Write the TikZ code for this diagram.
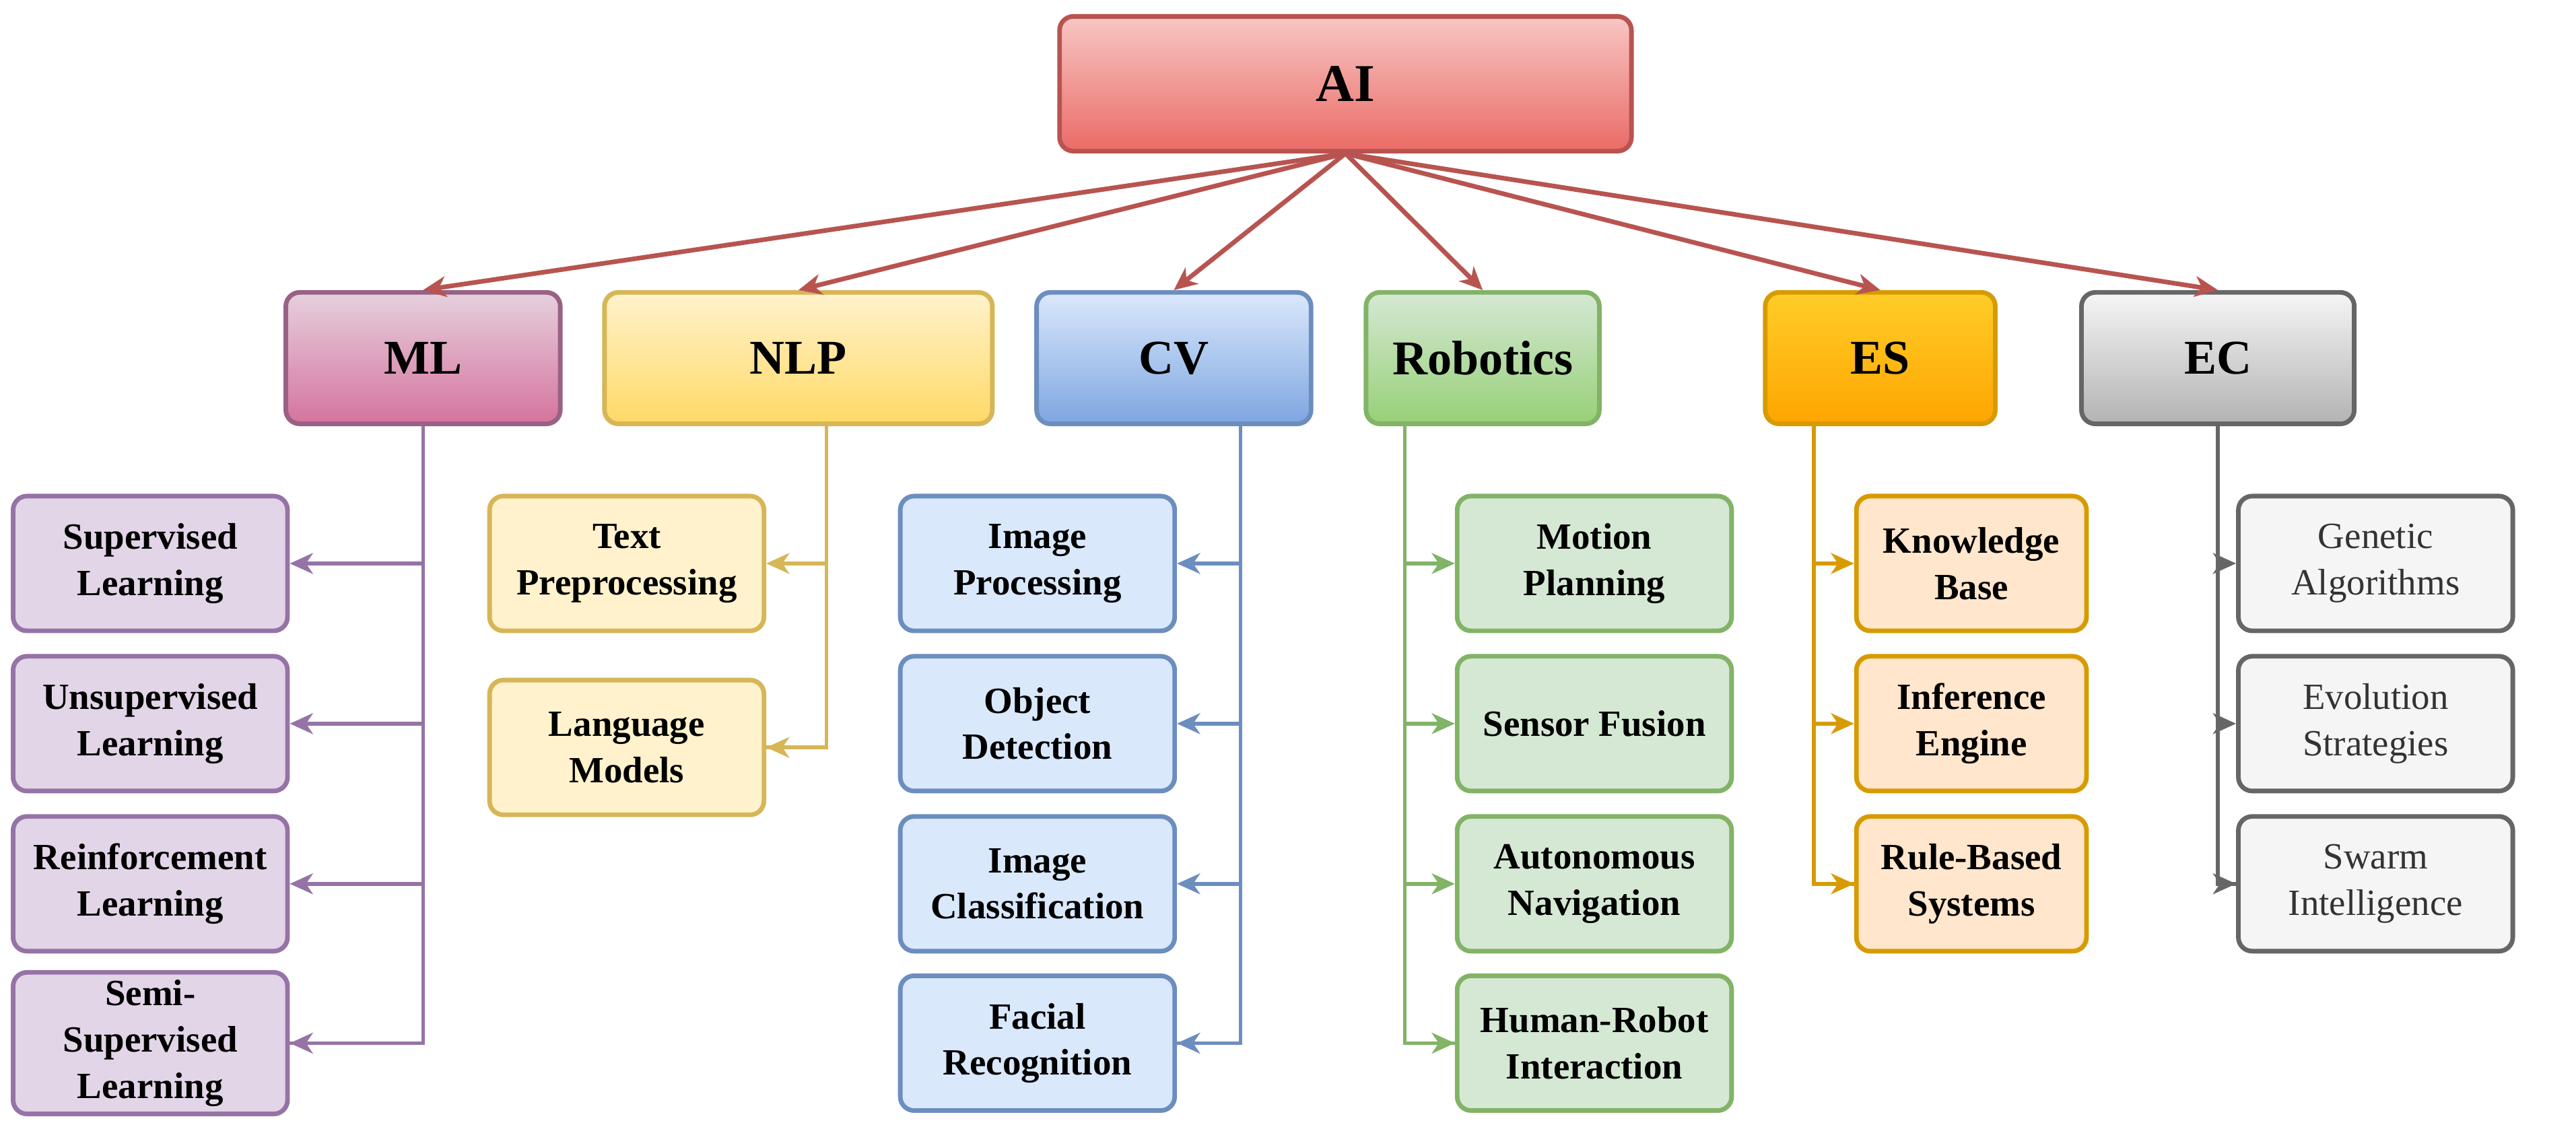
\documentclass[tikz,border=0pt]{standalone}
\usepackage{fontspec}
\setmainfont{Liberation Serif}
\usetikzlibrary{arrows.meta}

\definecolor{aiD}{HTML}{B85450}
\definecolor{aiT}{HTML}{F8C6C4}
\definecolor{aiB}{HTML}{EA6B66}
\definecolor{mlD}{HTML}{9673A6}
\definecolor{mlB}{HTML}{996185}
\definecolor{mlT}{HTML}{E6D0DE}
\definecolor{mlG}{HTML}{D5739D}
\definecolor{mlF}{HTML}{E1D5E7}
\definecolor{nlpD}{HTML}{D6B656}
\definecolor{nlpF}{HTML}{FFF2CC}
\definecolor{nlpG}{HTML}{FFD966}
\definecolor{cvD}{HTML}{6C8EBF}
\definecolor{cvF}{HTML}{DAE8FC}
\definecolor{cvG}{HTML}{7EA6E0}
\definecolor{roD}{HTML}{82B366}
\definecolor{roF}{HTML}{D5E8D4}
\definecolor{roG}{HTML}{97D077}
\definecolor{esD}{HTML}{D79B00}
\definecolor{esT}{HTML}{FFCD28}
\definecolor{esG}{HTML}{FFA500}
\definecolor{esF}{HTML}{FFE6CC}
\definecolor{ecD}{HTML}{666666}
\definecolor{ecF}{HTML}{F5F5F5}
\definecolor{ecG}{HTML}{B3B3B3}
\definecolor{ecX}{HTML}{333333}

\begin{document}
\begin{tikzpicture}[
    x = 0.025cm, y = -0.025cm, % pixel grid of the reference
    > = {Stealth[length=10pt,width=9pt,inset=3pt]},
    line width = 1.6pt
    ]

    \tikzset{
    box/.style = {draw, rounded corners=6pt, line width=2pt, align=center,
        font=\bfseries\fontsize{16}{20}\selectfont, minimum width=4.175cm, minimum height=2.05cm},
    head/.style = {draw, rounded corners=6pt, line width=2pt, align=center,
        font=\bfseries\fontsize{21}{24}\selectfont, minimum height=2cm},
    link/.style = {->, line width=2pt, aiD}
    }

    % root
    \node[head, minimum width=8.7cm, minimum height=2.05cm, draw=aiD, top color=aiT, bottom color=aiB,
        font=\bfseries\fontsize{23}{26}\selectfont] (ai) at (819,51) {AI};

    % second level
    \node[head, minimum width=4.175cm, draw=mlB, top color=mlT, bottom color=mlG] (ml) at (257.5,218) {ML};
    \node[head, minimum width=5.9cm, draw=nlpD, top color=nlpF, bottom color=nlpG] (nlp) at (486,218) {NLP};
    \node[head, minimum width=4.175cm, draw=cvD, top color=cvF, bottom color=cvG] (cv) at (714.5,218) {CV};
    \node[head, minimum width=3.55cm, draw=roD, top color=roF, bottom color=roG] (rob) at (902.5,218) {Robotics};
    \node[head, minimum width=3.5cm, draw=esD, top color=esT, bottom color=esG] (es) at (1144.5,218) {ES};
    \node[head, minimum width=4.15cm, draw=ecD, top color=ecF, bottom color=ecG] (ec) at (1350,218) {EC};

    \foreach \t in {ml,nlp,cv,rob,es,ec}
        \draw[link] (ai.south) -- (\t.north);

    % ML
    \begin{scope}[every node/.style={box, draw=mlD, fill=mlF}]
        \node (ml1) at (91.5,343) {Supervised\\Learning};
        \node (ml2) at (91.5,440.5) {Unsupervised\\Learning};
        \node (ml3) at (91.5,538) {Reinforcement\\Learning};
        \node (ml4) at (91.5,635) {Semi-\\Supervised\\Learning};
    \end{scope}
    \draw[mlD] (ml.south) |- (ml4.east);
    \foreach \s in {ml1,ml2,ml3,ml4}
        \draw[->, mlD] (ml.south |- \s) -- (\s.east);

    % NLP
    \begin{scope}[every node/.style={box, draw=nlpD, fill=nlpF}]
        \node (nlp1) at (381.5,343) {Text\\Preprocessing};
        \node (nlp2) at (381.5,455) {Language\\Models};
    \end{scope}
    \coordinate (nlpx) at (503,218);
    \draw[nlpD] (nlpx |- nlp.south) |- (nlp2.east);
    \foreach \s in {nlp1,nlp2}
        \draw[->, nlpD] (nlpx |- \s) -- (\s.east);

    % CV
    \begin{scope}[every node/.style={box, draw=cvD, fill=cvF}]
        \node (cv1) at (631.5,343) {Image\\Processing};
        \node (cv2) at (631.5,440.5) {Object\\Detection};
        \node (cv3) at (631.5,538) {Image\\Classification};
        \node (cv4) at (631.5,635) {Facial\\Recognition};
    \end{scope}
    \coordinate (cvx) at (755,218);
    \draw[cvD] (cvx |- cv.south) |- (cv4.east);
    \foreach \s in {cv1,cv2,cv3,cv4}
        \draw[->, cvD] (cvx |- \s) -- (\s.east);

    % Robotics
    \begin{scope}[every node/.style={box, draw=roD, fill=roF}]
        \node (rob1) at (970.5,343) {Motion\\Planning};
        \node (rob2) at (970.5,440.5) {Sensor Fusion};
        \node (rob3) at (970.5,538) {Autonomous\\Navigation};
        \node (rob4) at (970.5,635) {Human-Robot\\Interaction};
    \end{scope}
    \coordinate (robx) at (855,218);
    \draw[roD] (robx |- rob.south) |- (rob4.west);
    \foreach \s in {rob1,rob2,rob3,rob4}
        \draw[->, roD] (robx |- \s) -- (\s.west);

    % ES
    \begin{scope}[every node/.style={box, draw=esD, fill=esF, minimum width=3.5cm}]
        \node (es1) at (1200,343) {Knowledge\\Base};
        \node (es2) at (1200,440.5) {Inference\\Engine};
        \node (es3) at (1200,538) {Rule-Based\\Systems};
    \end{scope}
    \coordinate (esx) at (1104,218);
    \draw[esD] (esx |- es.south) |- (es3.west);
    \foreach \s in {es1,es2,es3}
        \draw[->, esD] (esx |- \s) -- (\s.west);

    % EC
    \begin{scope}[every node/.style={box, draw=ecD, fill=ecF, text=ecX,
        font=\fontsize{16}{20}\selectfont}]
        \node (ec1) at (1446,343) {Genetic\\Algorithms};
        \node (ec2) at (1446,440.5) {Evolution\\Strategies};
        \node (ec3) at (1446,538) {Swarm\\Intelligence};
    \end{scope}
    \draw[ecD] (ec.south) |- (ec3.west);
    \foreach \s in {ec1,ec2,ec3}
        \draw[->, ecD] (ec.south |- \s) -- (\s.west);

    \useasboundingbox (0,0) rectangle (1568,686);
\end{tikzpicture}
\end{document}
